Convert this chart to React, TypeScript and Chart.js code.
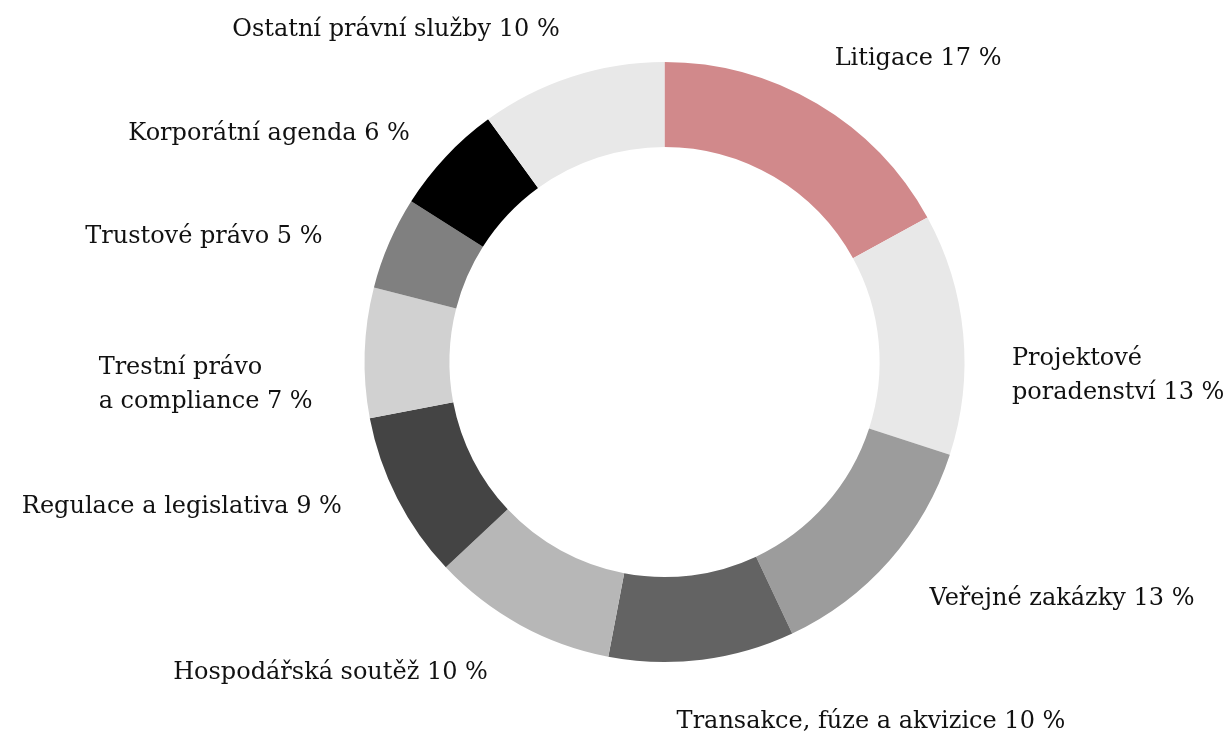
import React, { useEffect, useRef } from "react";
import { Chart, registerables } from "chart.js";

Chart.register(...registerables);

const CATEGORIES = [
  "Litigace",
  "Projektové\nporadenství",
  "Veřejné zakázky",
  "Transakce, fúze a akvizice",
  "Hospodářská soutěž",
  "Regulace a legislativa",
  "Trestní právo\na compliance",
  "Trustové právo",
  "Korporátní agenda",
  "Ostatní právní služby",
];

const VALUES = [17, 13, 13, 10, 10, 9, 7, 5, 6, 10];

const COLORS = [
  "#d1898b",
  "#e8e8e8",
  "#9c9c9c",
  "#636363",
  "#b7b7b7",
  "#444444",
  "#d1d1d1",
  "#808080",
  "#000000",
  "#e8e8e8",
];

// small layout nudges for label placement (dx, dy) in px
const LABEL_NUDGE: [number, number][] = [
  [-9, 0],
  [-3, 47],
  [1, 4],
  [-32, 11],
  [-7, 2],
  [-9, -15],
  [0, 34],
  [-19, 15],
  [2, 13],
  [4, 3],
];

const FONT_FAMILY = "'DejaVu Serif', serif";
const FONT_SIZE = 24;
const LINE_HEIGHT = 34;
const LABEL_GAP = 52;

const labelPlugin = {
  id: "outerLabels",
  afterDraw(chart: any) {
    const ctx = chart.ctx;
    const meta = chart.getDatasetMeta(0);
    ctx.save();
    ctx.font = `${FONT_SIZE}px ${FONT_FAMILY}`;
    ctx.fillStyle = "#111111";
    ctx.textBaseline = "middle";
    meta.data.forEach((arc: any, i: number) => {
      const { x, y, startAngle, endAngle, outerRadius } = arc.getProps(
        ["x", "y", "startAngle", "endAngle", "outerRadius"],
        true
      );
      const mid = (startAngle + endAngle) / 2;
      const r = outerRadius + LABEL_GAP;
      const ax = x + Math.cos(mid) * r + LABEL_NUDGE[i][0];
      const ay = y + Math.sin(mid) * r + LABEL_NUDGE[i][1];
      const text = `${CATEGORIES[i]} ${VALUES[i]} %`;
      const lines = text.split("\n");
      const widths = lines.map((l) => ctx.measureText(l).width);
      const maxW = Math.max(...widths);
      const leftSide = Math.cos(mid) < 0;
      const left = leftSide ? ax - maxW : ax;
      const top = ay - ((lines.length - 1) * LINE_HEIGHT) / 2;
      ctx.textAlign = "left";
      lines.forEach((l, j) => {
        ctx.fillText(l, left, top + j * LINE_HEIGHT);
      });
    });
    ctx.restore();
  },
};

export default function App() {
  const ref = useRef<HTMLCanvasElement>(null);
  useEffect(() => {
    if (!ref.current) return;
    const chart = new Chart(ref.current, {
      type: "doughnut",
      data: {
        labels: CATEGORIES,
        datasets: [
          {
            data: VALUES,
            backgroundColor: COLORS,
            borderWidth: 0,
          },
        ],
      },
      options: {
        animation: false,
        responsive: false,
        cutout: "71.7%",
        layout: { padding: { top: 62, bottom: 74, left: 100, right: 2 } },
        plugins: {
          legend: { display: false },
          tooltip: { enabled: false },
        },
      },
      plugins: [labelPlugin],
    });
    return () => chart.destroy();
  }, []);
  return (
    <div style={{ position: "fixed", left: 0, top: 0, width: 1231, height: 736, background: "#fff" }}>
      <canvas ref={ref} width={1231} height={736} style={{ display: "block" }} />
    </div>
  );
}
